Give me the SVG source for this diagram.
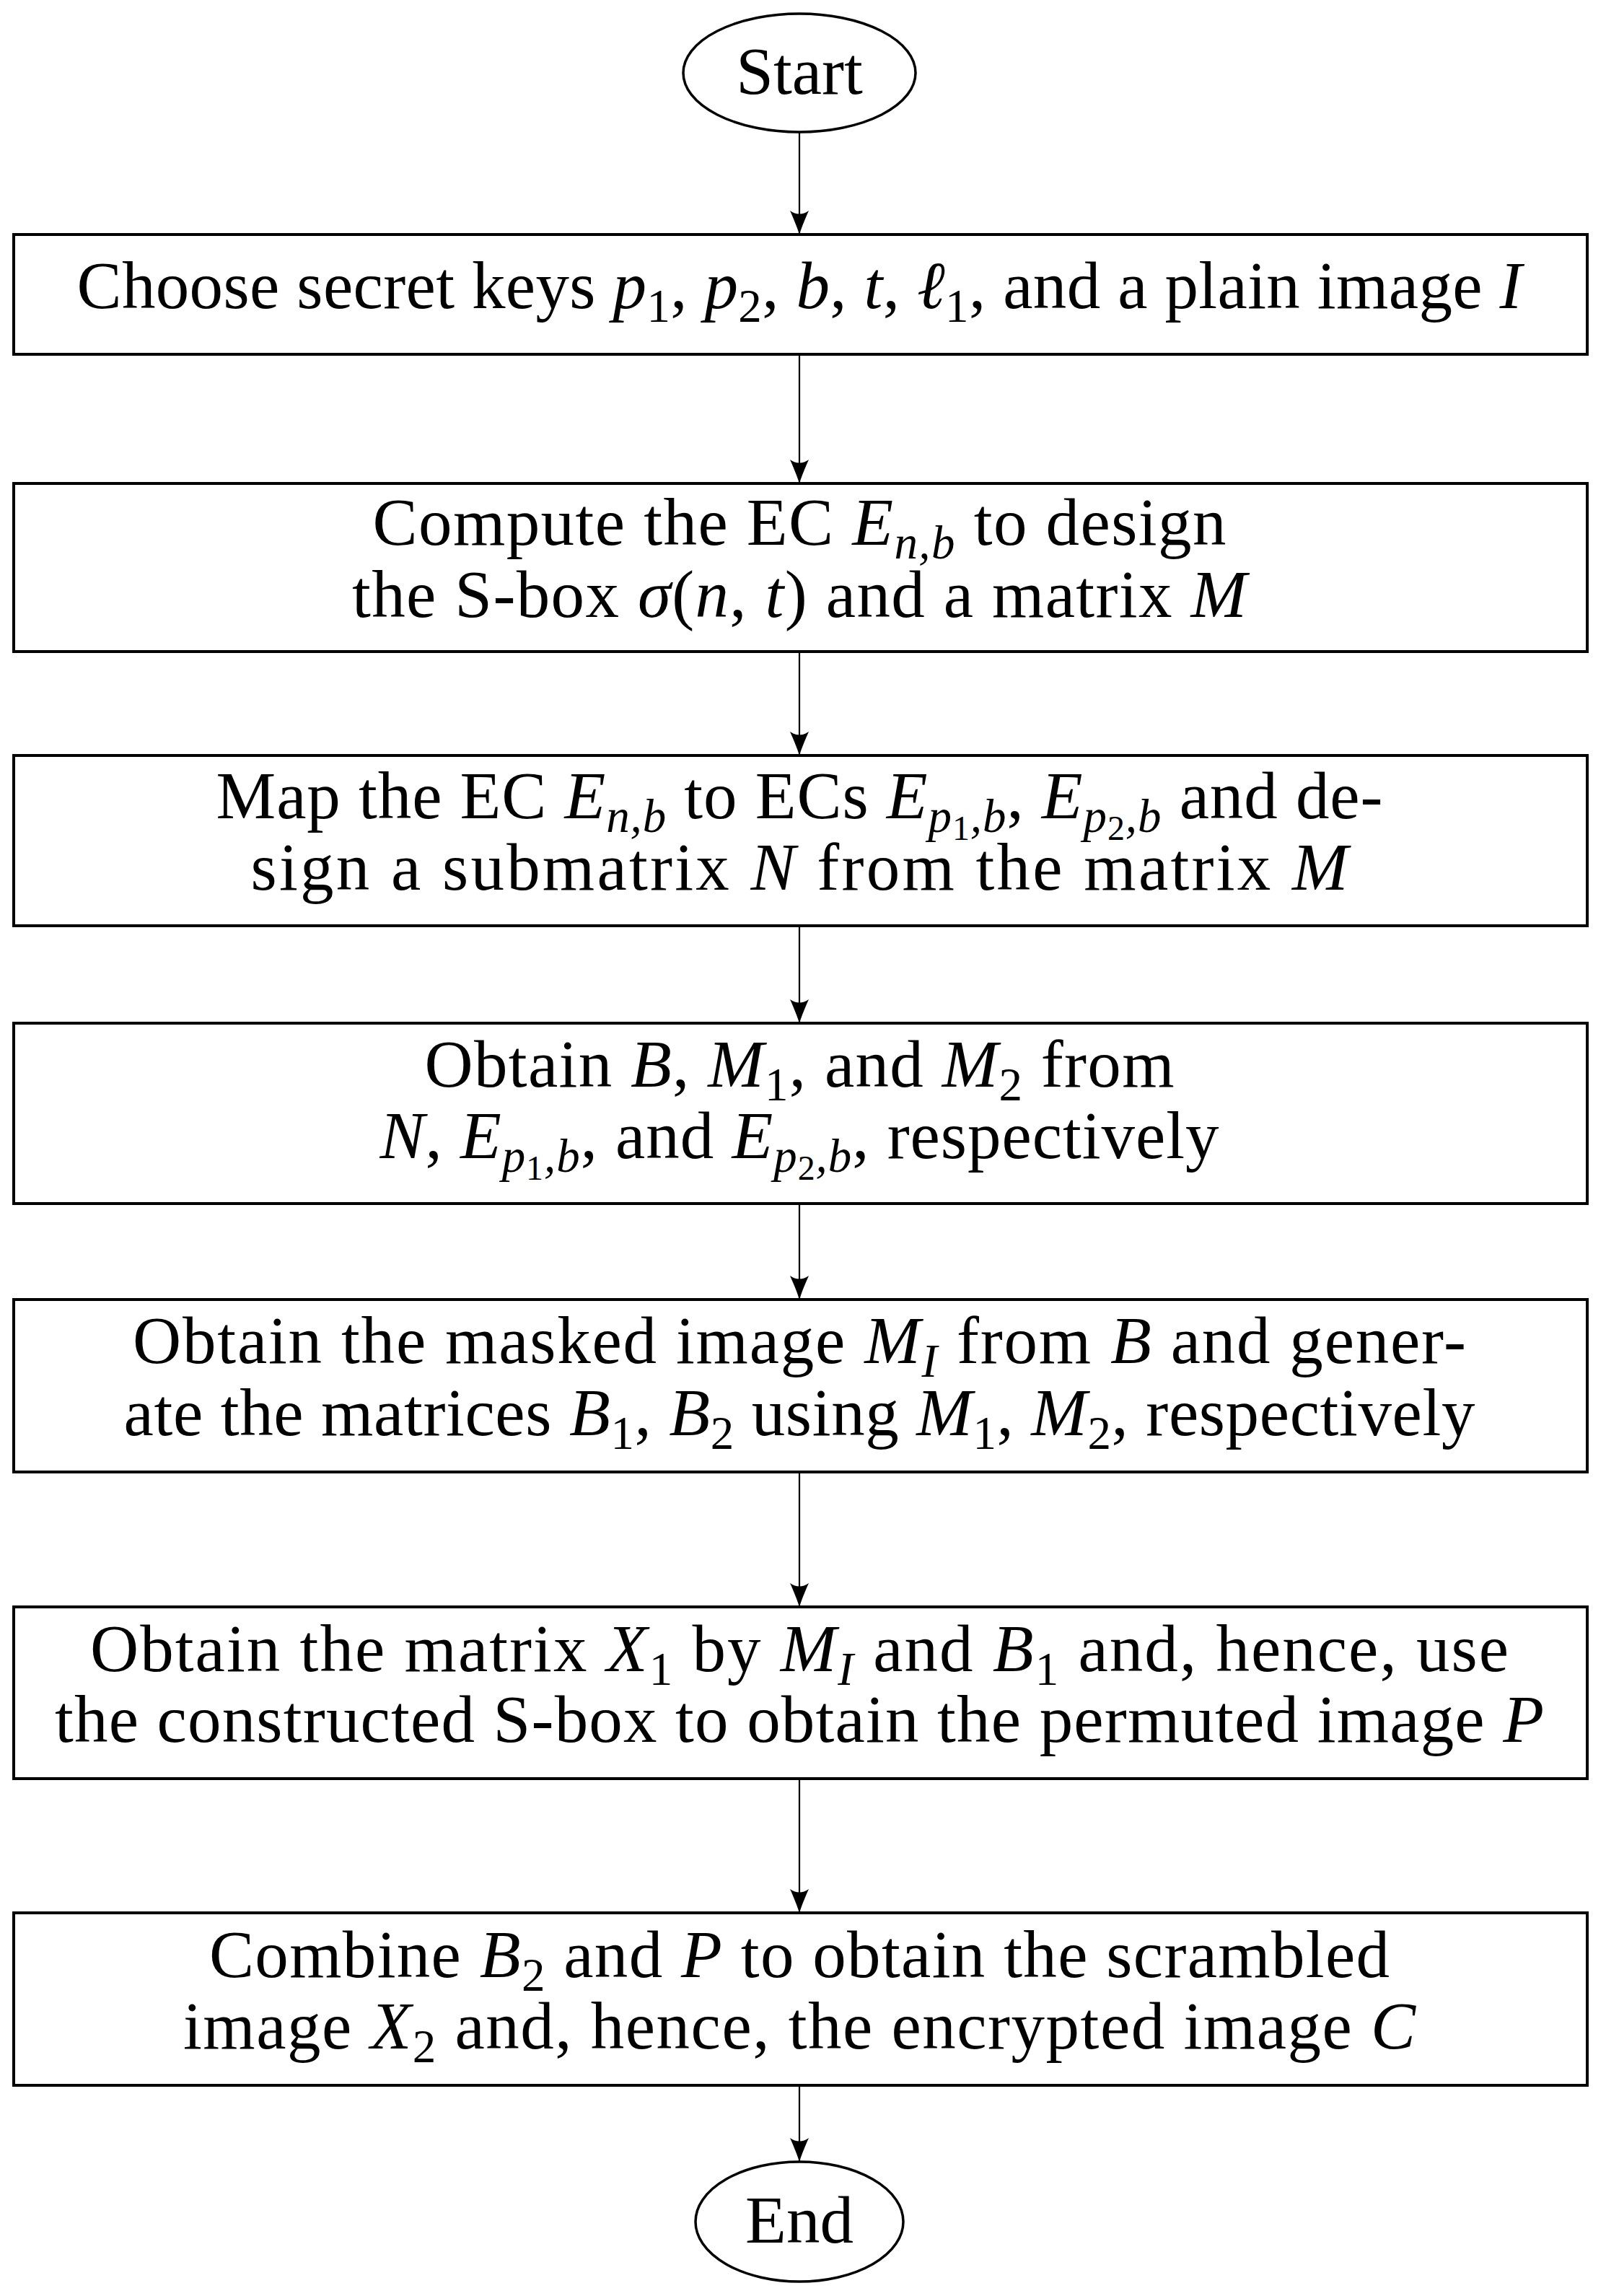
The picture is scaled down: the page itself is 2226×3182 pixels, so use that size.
<svg xmlns="http://www.w3.org/2000/svg" width="2226" height="3182" viewBox="0 0 2226 3182">
<style>
.box{fill:#fff;stroke:#000;stroke-width:4}
.term{fill:#fff;stroke:#000;stroke-width:3.5}
.t{font-family:"Liberation Serif","DejaVu Serif",serif;font-size:93px;fill:#000;text-anchor:middle}
.i{font-style:italic}
.s{font-size:65px}
.ss{font-size:48px}
.c{stroke:#000;stroke-width:2.2;fill:none;marker-end:url(#ah)}
</style>
<defs>
<marker id="ah" markerUnits="userSpaceOnUse" markerWidth="40" markerHeight="30" viewBox="-34 -15 36 30" refX="0" refY="0" orient="auto">
<path d="M0,0 C-10,-3 -24,-9 -33,-13 Q-24,0 -33,13 C-24,9 -10,3 0,0 Z" fill="#000"/>
</marker>
</defs>
<rect width="2226" height="3182" fill="#fff"/>
<g id="connectors">
<line class="c" x1="1108" y1="183" x2="1108" y2="325"/>
<line class="c" x1="1108" y1="491" x2="1108" y2="670"/>
<line class="c" x1="1108" y1="903" x2="1108" y2="1047"/>
<line class="c" x1="1108" y1="1283" x2="1108" y2="1418"/>
<line class="c" x1="1108" y1="1668" x2="1108" y2="1801"/>
<line class="c" x1="1108" y1="2040" x2="1108" y2="2227"/>
<line class="c" x1="1108" y1="2465" x2="1108" y2="2651"/>
<line class="c" x1="1108" y1="2890" x2="1108" y2="2996"/>
</g>
<g id="start">
<ellipse class="term" cx="1108" cy="101" rx="161" ry="82"/>
<text class="t" x="1108" y="130">Start</text>
</g>
<g id="step1">
<rect class="box" x="19" y="325" width="2181" height="166"/>
<text class="t" x="1108" y="427" textLength="2003" lengthAdjust="spacing">Choose secret keys <tspan class="i">p</tspan><tspan class="s" dy="19">1</tspan><tspan dy="-19">, </tspan><tspan class="i">p</tspan><tspan class="s" dy="19">2</tspan><tspan dy="-19">, </tspan><tspan class="i">b</tspan>, <tspan class="i">t</tspan>, <tspan class="i">ℓ</tspan><tspan class="s" dy="19">1</tspan><tspan dy="-19">, and a plain image </tspan><tspan class="i">I</tspan></text>
</g>
<g id="step2">
<rect class="box" x="19" y="670" width="2181" height="233"/>
<text class="t" x="1108" y="755" textLength="1183" lengthAdjust="spacing">Compute the EC <tspan class="i">E</tspan><tspan class="s i" dy="19">n,b</tspan><tspan dy="-19"> to design</tspan></text>
<text class="t" x="1108" y="855" textLength="1240" lengthAdjust="spacing">the S-box <tspan class="i">σ</tspan>(<tspan class="i">n</tspan>, <tspan class="i">t</tspan>) and a matrix <tspan class="i">M</tspan></text>
</g>
<g id="step3">
<rect class="box" x="19" y="1047" width="2181" height="236"/>
<text class="t" x="1108" y="1134" textLength="1617" lengthAdjust="spacing">Map the EC <tspan class="i">E</tspan><tspan class="s i" dy="19">n,b</tspan><tspan dy="-19"> to ECs </tspan><tspan class="i">E</tspan><tspan class="s i" dy="19">p</tspan><tspan class="ss" dy="11">1</tspan><tspan class="s i" dy="-11">,b</tspan><tspan dy="-19">, </tspan><tspan class="i">E</tspan><tspan class="s i" dy="19">p</tspan><tspan class="ss" dy="11">2</tspan><tspan class="s i" dy="-11">,b</tspan><tspan dy="-19"> and de-</tspan></text>
<text class="t" x="1108" y="1233" textLength="1521" lengthAdjust="spacing">sign a submatrix <tspan class="i">N</tspan> from the matrix <tspan class="i">M</tspan></text>
</g>
<g id="step4">
<rect class="box" x="19" y="1418" width="2181" height="250"/>
<text class="t" x="1108" y="1506" textLength="1039" lengthAdjust="spacing">Obtain <tspan class="i">B</tspan>, <tspan class="i">M</tspan><tspan class="s" dy="19">1</tspan><tspan dy="-19">, and </tspan><tspan class="i">M</tspan><tspan class="s" dy="19">2</tspan><tspan dy="-19"> from</tspan></text>
<text class="t" x="1108" y="1605" textLength="1163" lengthAdjust="spacing"><tspan class="i">N</tspan>, <tspan class="i">E</tspan><tspan class="s i" dy="19">p</tspan><tspan class="ss" dy="11">1</tspan><tspan class="s i" dy="-11">,b</tspan><tspan dy="-19">, and </tspan><tspan class="i">E</tspan><tspan class="s i" dy="19">p</tspan><tspan class="ss" dy="11">2</tspan><tspan class="s i" dy="-11">,b</tspan><tspan dy="-19">, respectively</tspan></text>
</g>
<g id="step5">
<rect class="box" x="19" y="1801" width="2181" height="239"/>
<text class="t" x="1108" y="1889" textLength="1848" lengthAdjust="spacing">Obtain the masked image <tspan class="i">M</tspan><tspan class="s i" dy="19">I</tspan><tspan dy="-19"> from </tspan><tspan class="i">B</tspan> and gener-</text>
<text class="t" x="1108" y="1989" textLength="1873" lengthAdjust="spacing">ate the matrices <tspan class="i">B</tspan><tspan class="s" dy="19">1</tspan><tspan dy="-19">, </tspan><tspan class="i">B</tspan><tspan class="s" dy="19">2</tspan><tspan dy="-19"> using </tspan><tspan class="i">M</tspan><tspan class="s" dy="19">1</tspan><tspan dy="-19">, </tspan><tspan class="i">M</tspan><tspan class="s" dy="19">2</tspan><tspan dy="-19">, respectively</tspan></text>
</g>
<g id="step6">
<rect class="box" x="19" y="2227" width="2181" height="238"/>
<text class="t" x="1108" y="2316" textLength="1966" lengthAdjust="spacing">Obtain the matrix <tspan class="i">X</tspan><tspan class="s" dy="19">1</tspan><tspan dy="-19"> by </tspan><tspan class="i">M</tspan><tspan class="s i" dy="19">I</tspan><tspan dy="-19"> and </tspan><tspan class="i">B</tspan><tspan class="s" dy="19">1</tspan><tspan dy="-19"> and, hence, use</tspan></text>
<text class="t" x="1108" y="2414" textLength="2064" lengthAdjust="spacing">the constructed S-box to obtain the permuted image <tspan class="i">P</tspan></text>
</g>
<g id="step7">
<rect class="box" x="19" y="2651" width="2181" height="239"/>
<text class="t" x="1108" y="2740" textLength="1636" lengthAdjust="spacing">Combine <tspan class="i">B</tspan><tspan class="s" dy="19">2</tspan><tspan dy="-19"> and </tspan><tspan class="i">P</tspan> to obtain the scrambled</text>
<text class="t" x="1108" y="2839" textLength="1708" lengthAdjust="spacing">image <tspan class="i">X</tspan><tspan class="s" dy="19">2</tspan><tspan dy="-19"> and, hence, the encrypted image </tspan><tspan class="i">C</tspan></text>
</g>
<g id="end">
<ellipse class="term" cx="1108" cy="3079" rx="144" ry="83"/>
<text class="t" x="1108" y="3108">End</text>
</g>
</svg>
